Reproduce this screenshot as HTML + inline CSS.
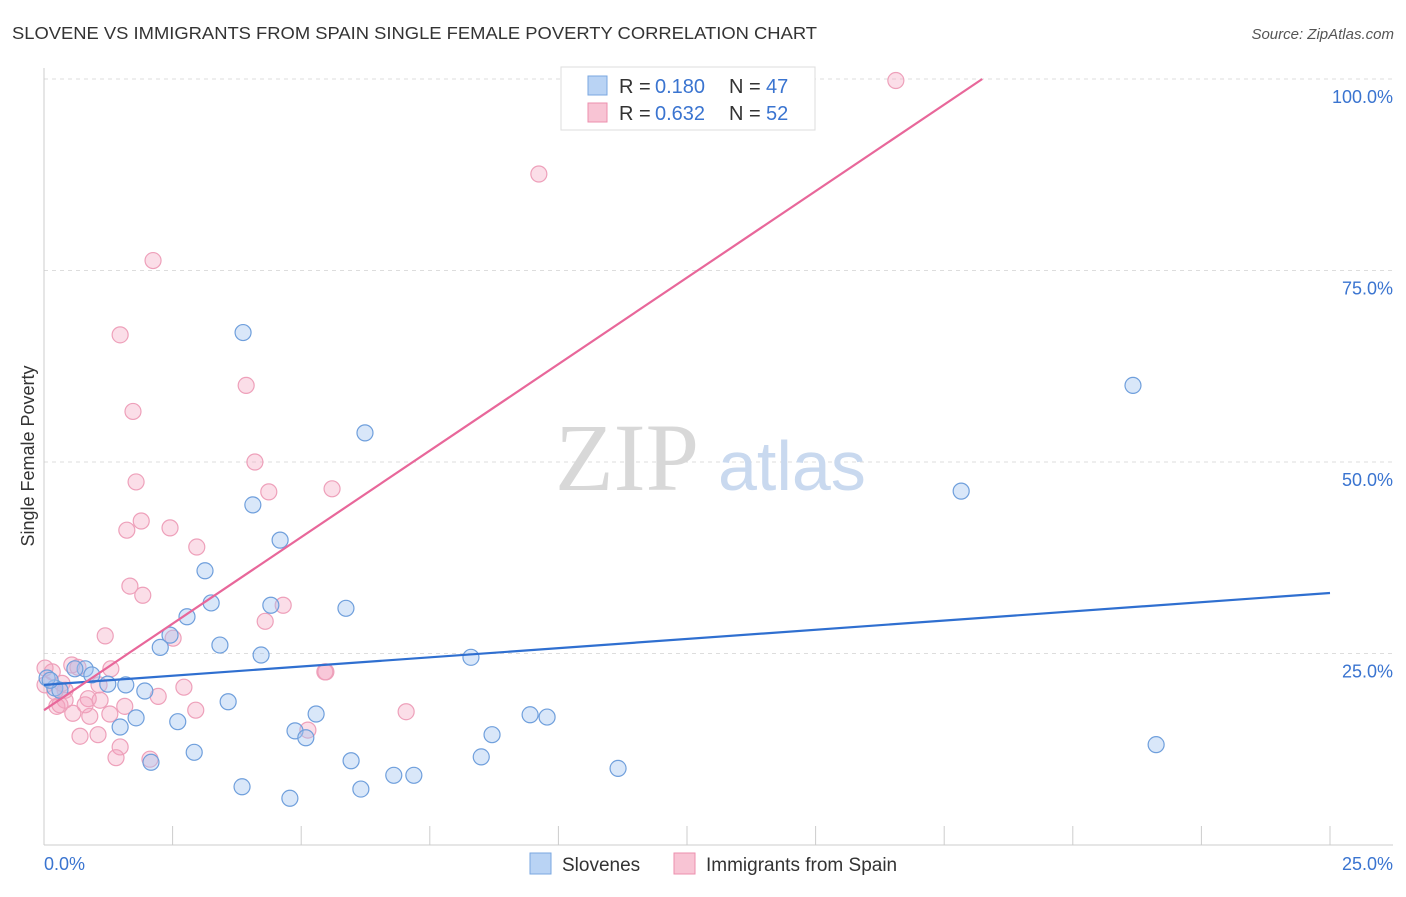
<!DOCTYPE html>
<html><head><meta charset="utf-8"><style>
body{margin:0;background:#fff;font-family:"Liberation Sans",sans-serif;}
svg text{font-family:"Liberation Sans",sans-serif;}
</style></head><body>
<svg id="chart" width="1406" height="892" xmlns="http://www.w3.org/2000/svg">
<text x="12" y="39" font-size="17.5" fill="#333" textLength="805" lengthAdjust="spacingAndGlyphs">SLOVENE VS IMMIGRANTS FROM SPAIN SINGLE FEMALE POVERTY CORRELATION CHART</text>
<text x="1394" y="39" font-size="15" fill="#555" text-anchor="end" font-style="italic">Source: ZipAtlas.com</text>
<g id="grid"></g>
<g>
<text x="555" y="490" font-size="96" fill="#d8d8d8" font-family="Liberation Serif" style="font-family:'Liberation Serif',serif">ZIP</text>
<text x="718" y="490" font-size="70" fill="#c9d9ef">atlas</text>
</g>
<text transform="translate(34,456) rotate(-90)" font-size="18" fill="#333" text-anchor="middle">Single Female Poverty</text>
<g id="pts"></g>
<g id="lines"></g>
<g>
<rect x="561" y="67" width="254" height="63" fill="#fff" stroke="#ddd"/>
<rect x="588" y="76" width="19" height="19" fill="#b9d3f4" stroke="#7aa7e0"/>
<rect x="588" y="103" width="19" height="19" fill="#f8c4d4" stroke="#ec8fae"/>
<text x="619" y="93" font-size="20" fill="#333">R = </text>
<text x="655" y="93" font-size="20" fill="#3a74d0">0.180</text>
<text x="729" y="93" font-size="20" fill="#333">N = </text>
<text x="766" y="93" font-size="20" fill="#3a74d0">47</text>
<text x="619" y="120" font-size="20" fill="#333">R = </text>
<text x="655" y="120" font-size="20" fill="#3a74d0">0.632</text>
<text x="729" y="120" font-size="20" fill="#333">N = </text>
<text x="766" y="120" font-size="20" fill="#3a74d0">52</text>
</g>
<g>
<rect x="530" y="853" width="21" height="21" fill="#b9d3f4" stroke="#7aa7e0"/>
<text x="562" y="871" font-size="19" fill="#333">Slovenes</text>
<rect x="674" y="853" width="21" height="21" fill="#f8c4d4" stroke="#ec8fae"/>
<text x="706" y="871" font-size="19" fill="#333">Immigrants from Spain</text>
</g>
</svg>
<script>
const blueX=[3.87,6.24,4.06,4.59,3.13,3.25,2.78,4.41,5.87,2.45,2.26,3.42,4.22,8.30,0.80,0.60,0.93,1.24,1.59,1.96,0.21,0.06,0.31,3.58,1.79,1.48,2.60,5.29,4.88,5.09,9.45,9.78,8.71,2.92,2.08,5.97,8.50,6.80,7.19,11.16,3.85,6.16,4.78,21.17,17.83,21.62,0.12];
const blueY=[66.9,53.8,44.4,39.8,35.8,31.6,29.8,31.3,30.9,27.4,25.8,26.1,24.8,24.5,23.0,23.0,22.2,21.0,20.9,20.1,20.5,21.8,20.2,18.7,16.6,15.4,16.1,17.1,14.9,14.0,17.0,16.7,14.4,12.1,10.8,11.0,11.5,9.1,9.1,10.0,7.6,7.3,6.1,60.0,46.2,13.1,21.5];
const pinkX=[16.56,9.62,2.12,1.48,3.93,1.73,4.10,1.79,4.37,5.60,1.89,1.61,2.45,2.97,1.67,1.92,4.65,4.30,2.51,1.19,5.48,0.54,1.30,0.66,0.16,0.02,0.41,1.07,2.72,2.22,0.86,0.41,2.95,1.57,0.25,0.56,0.89,1.28,1.05,0.70,1.48,1.40,2.06,7.04,5.13,0.02,0.31,5.46,0.21,1.09,0.80,0.35];
const pinkY=[99.8,87.6,76.3,66.6,60.0,56.6,50.0,47.4,46.1,46.5,42.3,41.1,41.4,38.9,33.8,32.6,31.3,29.2,27.0,27.3,22.6,23.5,23.0,23.2,22.6,20.9,20.2,20.9,20.6,19.4,19.1,18.9,17.6,18.1,18.1,17.2,16.8,17.1,14.4,14.2,12.8,11.4,11.2,17.4,15.0,23.1,18.3,22.6,20.0,18.9,18.3,21.1];
const blueTrend=[[0,20.9],[25,32.9]];
const pinkTrend=[[0,17.6],[18.24,100]];
const yTicks=[25,50,75,100];
const yTickLabels=["25.0%","50.0%","75.0%","100.0%"];
const xTicks=[0,2.5,5,7.5,10,12.5,15,17.5,20,22.5,25];
const NS="http://www.w3.org/2000/svg";
const sx=v=>44+v/25*1286, sy=v=>845-v/100*766;
function mk(t,a,p){const e=document.createElementNS(NS,t);for(const k in a)e.setAttribute(k,a[k]);p.appendChild(e);return e;}
const g=document.getElementById('grid');
yTicks.forEach((v,i)=>{
 const l=mk('line',{x1:44,x2:1393,y1:sy(v),y2:sy(v),stroke:'#ddd','stroke-dasharray':'4,4'},g);
 
 
 const t=mk('text',{x:1393,y:sy(v)+24,'font-size':18,fill:'#3a74d0','text-anchor':'end'},g);
 t.textContent=yTickLabels[i];
 
 
});
let a=mk('line',{x1:44,x2:44,y1:68,y2:845,stroke:'#ccc'},g);


a=mk('line',{x1:44,x2:1393,y1:845,y2:845,stroke:'#ccc'},g);


xTicks.forEach(v=>{const t=mk('line',{x1:sx(v),x2:sx(v),y1:845,y2:826,stroke:'#ccc'},g);
 
 });
let t=mk('text',{x:44,y:870,'font-size':18,fill:'#3a74d0'},g);t.textContent="0.0%";


t=mk('text',{x:1393,y:870,'font-size':18,fill:'#3a74d0','text-anchor':'end'},g);t.textContent="25.0%";


const P=document.getElementById('pts');
pinkX.forEach((x,i)=>{const c=mk('circle',{cx:sx(x),cy:sy(pinkY[i]),r:8,fill:'rgba(244,160,188,0.35)',stroke:'#eea0ba','stroke-width':1.2},P);
 
 });
blueX.forEach((x,i)=>{const c=mk('circle',{cx:sx(x),cy:sy(blueY[i]),r:8,fill:'rgba(160,195,240,0.4)',stroke:'#6f9fdc','stroke-width':1.2},P);
 
 });
const L=document.getElementById('lines');
let ln=mk('line',{x1:sx(blueTrend[0][0]),y1:sy(blueTrend[0][1]),x2:sx(blueTrend[1][0]),y2:sy(blueTrend[1][1]),stroke:'#2f6fd0','stroke-width':2.2},L);


ln=mk('line',{x1:sx(pinkTrend[0][0]),y1:sy(pinkTrend[0][1]),x2:sx(pinkTrend[1][0]),y2:sy(pinkTrend[1][1]),stroke:'#e8679a','stroke-width':2.2},L);


</script>
</body></html>
